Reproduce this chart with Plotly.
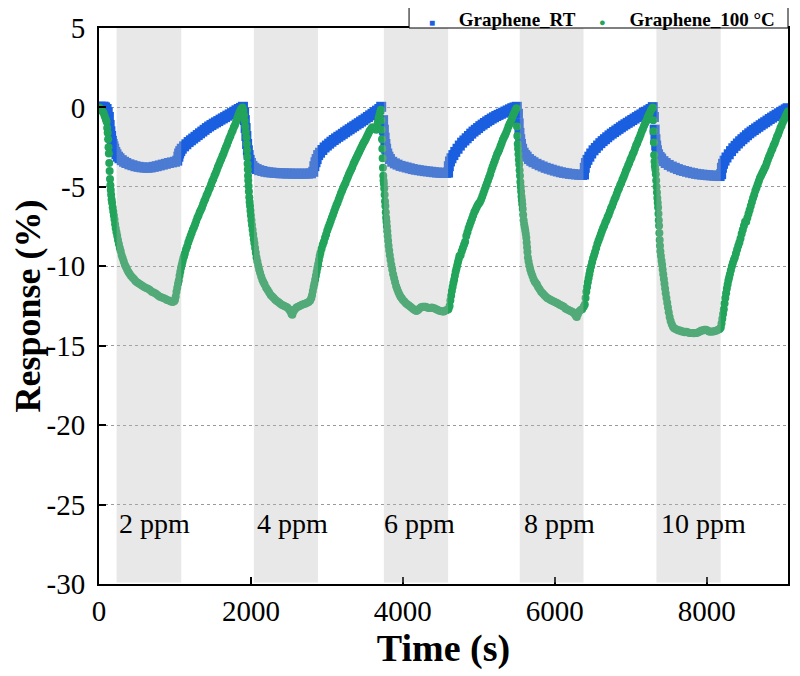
import plotly.graph_objects as go

# ---------------- data ----------------
t_rt = [0, 20, 40, 60, 80, 100, 115, 130, 140, 150, 160, 170, 180, 190, 200, 215, 230, 250, 270, 300,
        330, 360, 400, 440, 480, 520, 560, 600, 640, 680, 720, 760, 800, 840, 880, 920, 960, 1000, 1030,
        1045, 1055, 1070, 1090, 1120, 1150, 1180, 1210, 1240, 1270, 1300, 1330, 1360, 1390, 1420, 1450,
        1480, 1510, 1540, 1570, 1600, 1630, 1660, 1690, 1720, 1750, 1780, 1810, 1840, 1870, 1895,
        1910, 1920, 1930, 1940, 1950, 1960, 1970, 1985, 2000, 2020, 2045, 2075, 2110, 2150, 2190, 2230,
        2270, 2310, 2350, 2390, 2430, 2470, 2510, 2550, 2590, 2630, 2670, 2710, 2750, 2790, 2820, 2835,
        2850, 2865, 2885, 2910, 2940, 2970, 3000, 3030, 3060, 3090, 3120, 3150, 3180, 3210, 3240, 3270,
        3300, 3330, 3360, 3390, 3420, 3450, 3480, 3510, 3540, 3570, 3600, 3630, 3660, 3690, 3715,
        3740, 3750, 3760, 3770, 3780, 3795, 3810, 3830, 3860, 3895, 3930, 3970, 4010, 4050, 4090, 4130,
        4170, 4210, 4250, 4290, 4330, 4370, 4410, 4450, 4490, 4530, 4570, 4595, 4605, 4620, 4640, 4665,
        4690, 4720, 4750, 4780, 4810, 4840, 4870, 4900, 4930, 4960, 4990, 5020, 5050, 5080, 5110, 5140,
        5170, 5200, 5230, 5260, 5290, 5320, 5350, 5380, 5410, 5440, 5470, 5500,
        5515, 5525, 5535, 5545, 5555, 5570, 5590, 5610, 5630, 5660, 5690, 5720, 5760, 5800, 5840, 5880,
        5920, 5960, 6000, 6040, 6080, 6120, 6160, 6200, 6240, 6280, 6320, 6360, 6385, 6395, 6410, 6430,
        6455, 6480, 6510, 6540, 6570, 6600, 6630, 6660, 6690, 6720, 6750, 6780, 6810, 6840, 6870, 6900,
        6930, 6960, 6990, 7020, 7050, 7080, 7110, 7140, 7170, 7200, 7230, 7260, 7290,
        7305, 7315, 7325, 7335, 7345, 7360, 7380, 7400, 7430, 7460, 7500, 7540, 7580, 7620, 7660, 7700,
        7740, 7780, 7820, 7860, 7900, 7940, 7980, 8020, 8060, 8100, 8140, 8170, 8190, 8200, 8215, 8235,
        8260, 8290, 8320, 8350, 8380, 8410, 8440, 8470, 8500, 8530, 8560, 8590, 8620, 8650, 8680, 8710,
        8740, 8770, 8800, 8830, 8860, 8890, 8920, 8950, 8980, 9010, 9040, 9065]
y_rt = [0.0, 0.05, 0.0, 0.05, 0.0, -0.1, -0.3, -0.6, -1.1, -1.5, -1.8, -2.1, -2.3, -2.45, -2.6, -2.8, -2.95, -3.1, -3.2, -3.32,
        -3.42, -3.5, -3.58, -3.64, -3.7, -3.74, -3.77, -3.79, -3.8, -3.78, -3.74, -3.7, -3.65, -3.6, -3.55, -3.5, -3.46, -3.42, -3.35,
        -3.1, -2.9, -2.75, -2.6, -2.45, -2.32, -2.18, -2.07, -1.96, -1.85, -1.74, -1.63, -1.52, -1.41, -1.3, -1.2,
        -1.11, -1.02, -0.94, -0.86, -0.77, -0.69, -0.61, -0.52, -0.44, -0.36, -0.27, -0.18, -0.1, -0.03, 0.04,
        -0.3, -0.8, -1.3, -1.8, -2.3, -2.7, -3.0, -3.3, -3.5, -3.68, -3.8, -3.88, -3.95, -4.0, -4.05, -4.08,
        -4.1, -4.12, -4.13, -4.15, -4.15, -4.16, -4.16, -4.17, -4.17, -4.17, -4.17, -4.17, -4.17, -4.15, -4.05, -3.7,
        -3.45, -3.25, -3.0, -2.85, -2.68, -2.52, -2.4, -2.28, -2.16, -2.05, -1.95, -1.85, -1.76, -1.66, -1.56, -1.46,
        -1.37, -1.27, -1.18, -1.08, -0.99, -0.89, -0.8, -0.7, -0.6, -0.5, -0.4, -0.3, -0.2, -0.1, 0.04,
        -0.8, -1.4, -1.9, -2.3, -2.6, -2.9, -3.1, -3.25, -3.42, -3.52, -3.6, -3.68, -3.73, -3.78, -3.83, -3.88,
        -3.92, -3.95, -3.98, -4.01, -4.03, -4.05, -4.08, -4.1, -4.11, -4.12, -4.12, -4.1, -3.7, -3.4, -3.2, -3.0,
        -2.8, -2.6, -2.4, -2.22, -2.08, -1.94, -1.8, -1.65, -1.52, -1.41, -1.3, -1.18, -1.08, -0.98, -0.88, -0.79,
        -0.7, -0.62, -0.54, -0.47, -0.4, -0.33, -0.26, -0.19, -0.12, -0.05, 0.0, 0.04,
        -0.4, -1.0, -1.6, -2.0, -2.3, -2.6, -2.85, -3.0, -3.1, -3.25, -3.36, -3.45, -3.55, -3.64, -3.72, -3.8,
        -3.86, -3.92, -3.98, -4.03, -4.08, -4.12, -4.15, -4.18, -4.2, -4.22, -4.24, -4.25, -4.22, -3.8, -3.5, -3.3,
        -3.1, -2.9, -2.7, -2.55, -2.4, -2.25, -2.12, -2.0, -1.88, -1.76, -1.65, -1.55, -1.45, -1.35, -1.25, -1.15,
        -1.06, -0.97, -0.88, -0.79, -0.7, -0.61, -0.52, -0.44, -0.35, -0.27, -0.18, -0.1, 0.02,
        -0.6, -1.4, -2.0, -2.4, -2.7, -2.95, -3.12, -3.22, -3.38, -3.5, -3.62, -3.72, -3.8, -3.88, -3.95, -4.0,
        -4.05, -4.1, -4.14, -4.18, -4.21, -4.23, -4.25, -4.27, -4.28, -4.3, -4.31, -4.32, -4.2, -3.8, -3.55, -3.35,
        -3.15, -2.95, -2.75, -2.57, -2.42, -2.27, -2.13, -2.0, -1.88, -1.75, -1.63, -1.52, -1.42, -1.32, -1.22, -1.12,
        -1.02, -0.93, -0.83, -0.73, -0.64, -0.55, -0.46, -0.37, -0.28, -0.2, -0.12, -0.05]

t_100 = [0, 15, 30, 45, 60, 75, 90, 100, 108, 114, 120, 125, 130, 135, 140, 145, 150, 155, 160, 166, 172,
         180, 188, 196, 204, 212, 220, 230, 240, 250, 262, 274, 286, 298, 312, 326, 340, 355, 370, 385, 400,
         420, 440, 460, 480, 500, 520, 545, 570, 595, 620, 645, 670, 695, 720, 745, 770, 795, 820, 845, 870,
         895, 920, 945, 970, 990, 1000, 1010, 1020, 1030, 1040, 1050, 1060, 1070, 1080, 1090, 1100, 1110,
         1120, 1130, 1145, 1160, 1175, 1190, 1205, 1220, 1235, 1250, 1265, 1280, 1295, 1310, 1325, 1340,
         1355, 1370, 1385, 1400, 1415, 1430, 1445, 1460, 1475, 1490, 1505, 1520, 1535, 1550, 1565, 1580,
         1595, 1610, 1625, 1640, 1655, 1670, 1685, 1700, 1715, 1730, 1745, 1760, 1775, 1790, 1805, 1820,
         1835, 1850, 1865, 1880, 1890,
         1900, 1910, 1918, 1925, 1932, 1940, 1945, 1950, 1953, 1956, 1959, 1962, 1965, 1969, 1973, 1978,
         1983, 1988, 1994, 2000, 2007, 2014, 2022, 2030, 2038, 2046, 2055, 2064, 2074, 2085, 2096, 2108,
         2120, 2135, 2150, 2165, 2180, 2200, 2220, 2240, 2260, 2280, 2300, 2320, 2340, 2360, 2380, 2400,
         2420, 2440, 2460, 2480, 2500, 2520, 2535, 2545, 2560, 2580, 2600, 2620, 2640, 2660, 2680, 2700,
         2720, 2740, 2760, 2780, 2795, 2805, 2815, 2825, 2835, 2845, 2855, 2865, 2875, 2885, 2895, 2905,
         2915, 2930, 2945, 2960, 2975, 2990, 3005, 3020, 3035, 3050, 3065, 3080, 3095, 3110, 3125, 3140,
         3155, 3170, 3185, 3200, 3215, 3230, 3245, 3260, 3275, 3290, 3305, 3320, 3335, 3350, 3365, 3380,
         3395, 3410, 3425, 3440, 3455, 3470, 3485, 3500, 3515, 3530, 3545, 3560, 3575, 3590, 3605, 3620,
         3635, 3650, 3660, 3670, 3680, 3690, 3700, 3710,
         3718, 3722, 3726, 3730, 3734, 3738, 3742, 3746, 3750, 3755, 3760, 3765, 3770, 3775, 3780, 3785,
         3790, 3795, 3800, 3806, 3812, 3820, 3828, 3838, 3848, 3860, 3872, 3885, 3898, 3912, 3926, 3940,
         3955, 3970, 3985, 4000, 4020, 4040, 4060, 4080, 4100, 4120, 4140, 4160, 4180, 4200, 4220, 4240,
         4260, 4280, 4300, 4320, 4340, 4360, 4380, 4400, 4420, 4440, 4460, 4480, 4500, 4520, 4540, 4560,
         4580, 4600, 4615, 4625, 4635, 4645, 4655, 4665, 4675, 4685, 4695, 4705, 4715, 4725, 4735, 4745,
         4760, 4775, 4790, 4805, 4820, 4835, 4850, 4865, 4880, 4895, 4910, 4925, 4940, 4955, 4970, 4985,
         5000, 5015, 5030, 5045, 5060, 5075, 5090, 5105, 5120, 5135, 5150, 5165, 5180, 5195, 5210, 5225,
         5240, 5255, 5270, 5285, 5300, 5315, 5330, 5345, 5360, 5375, 5390, 5405, 5420, 5435, 5450, 5465,
         5480, 5495,
         5503, 5507, 5512, 5517, 5522, 5527, 5532, 5537, 5542, 5547, 5552, 5557, 5562, 5567, 5572, 5578,
         5584, 5590, 5597, 5604, 5611, 5618, 5625, 5630, 5635, 5640, 5646, 5655, 5665, 5677, 5690, 5705,
         5720, 5735, 5750, 5765, 5780, 5800, 5820, 5840, 5860, 5880, 5900, 5920, 5940, 5960, 5980, 6000,
         6020, 6040, 6060, 6080, 6100, 6120, 6140, 6160, 6180, 6200, 6220, 6240, 6260, 6280, 6290, 6305,
         6320, 6340, 6360, 6380, 6395, 6405, 6415, 6425, 6435, 6445, 6455, 6465, 6478, 6491, 6504, 6517,
         6530, 6545, 6560, 6575, 6590, 6605, 6620, 6635, 6650, 6665, 6680, 6695, 6710, 6725, 6740, 6755,
         6770, 6785, 6800, 6815, 6830, 6845, 6860, 6875, 6890, 6905, 6920, 6935, 6950, 6965, 6980, 6995,
         7010, 7025, 7040, 7055, 7070, 7085, 7100, 7115, 7130, 7145, 7160, 7175, 7190, 7205, 7220, 7235,
         7250, 7265, 7280, 7290,
         7296, 7300, 7304, 7308, 7313, 7318, 7324, 7330, 7335, 7340, 7345, 7350, 7355, 7360, 7365, 7369,
         7373, 7377, 7381, 7385, 7390, 7397, 7405, 7413, 7420, 7428, 7436, 7444, 7452, 7460, 7470, 7480,
         7490, 7500, 7512, 7525, 7540, 7555, 7570, 7590, 7610, 7630, 7650, 7670, 7690, 7710, 7730, 7750,
         7770, 7790, 7810, 7830, 7850, 7870, 7890, 7910, 7930, 7950, 7970, 7990, 8010, 8030, 8050, 8070,
         8090, 8110, 8130, 8150, 8170, 8185, 8195, 8205, 8215, 8225, 8235, 8245, 8255, 8265, 8275, 8285,
         8295, 8305, 8318, 8331, 8344, 8357, 8370, 8385, 8400, 8415, 8430, 8445, 8460, 8475, 8490, 8505,
         8520, 8535, 8550, 8565, 8580, 8595, 8610, 8625, 8640, 8655, 8670, 8685, 8700, 8715, 8730, 8745,
         8760, 8775, 8790, 8805, 8820, 8835, 8850, 8865, 8880, 8895, 8910, 8925, 8940, 8955, 8970, 8985,
         9000, 9015, 9030, 9045, 9060, 9070]
y_100 = [0.0, -0.05, -0.15, -0.25, -0.35, -0.55, -0.75, -0.9, -1.3, -1.6, -2.0, -2.5, -2.9, -3.5, -4.0, -4.5, -4.9, -5.2, -5.5, -5.8, -6.0,
         -6.3, -6.55, -6.8, -7.05, -7.35, -7.6, -7.85, -8.1, -8.35, -8.6, -8.85, -9.05, -9.3, -9.5, -9.7, -9.9, -10.05, -10.2, -10.35, -10.45,
         -10.6, -10.7, -10.8, -10.92, -11.0, -11.07, -11.15, -11.22, -11.3, -11.37, -11.42, -11.5, -11.6, -11.65, -11.72, -11.8, -11.9, -11.95, -12.0, -12.05,
         -12.12, -12.15, -12.22, -12.25, -12.2, -12.12, -11.9, -11.6, -11.35, -11.1, -10.9, -10.6, -10.35, -10.1, -9.9, -9.7, -9.5,
         -9.35, -9.2, -8.95, -8.75, -8.5, -8.3, -8.1, -7.9, -7.7, -7.55, -7.35, -7.15, -6.95, -6.8, -6.6, -6.45,
         -6.3, -6.1, -5.9, -5.75, -5.55, -5.4, -5.2, -5.05, -4.85, -4.65, -4.5, -4.3, -4.15, -3.95, -3.75, -3.6,
         -3.4, -3.25, -3.05, -2.9, -2.7, -2.5, -2.35, -2.15, -1.95, -1.8, -1.6, -1.45, -1.25, -1.1, -0.9, -0.7,
         -0.5, -0.3, -0.15, -0.05, 0.0,
         -0.2, -0.5, -0.85, -1.2, -1.55, -1.9, -2.3, -2.7, -3.1, -3.55, -3.9, -4.3, -4.6, -4.95, -5.3, -5.65,
         -5.95, -6.2, -6.5, -6.8, -7.1, -7.4, -7.7, -8.0, -8.3, -8.55, -8.85, -9.15, -9.45, -9.7, -9.95, -10.2,
         -10.4, -10.65, -10.85, -11.0, -11.15, -11.35, -11.5, -11.65, -11.8, -11.9, -12.0, -12.1, -12.18, -12.25, -12.32, -12.4,
         -12.45, -12.5, -12.55, -12.6, -12.7, -12.85, -13.0, -13.05, -12.85, -12.7, -12.6, -12.55, -12.5, -12.45, -12.4, -12.38,
         -12.35, -12.3, -12.25, -12.15, -12.0, -11.8, -11.55, -11.3, -11.1, -10.85, -10.6, -10.35, -10.1, -9.85, -9.6, -9.35,
         -9.15, -8.9, -8.65, -8.45, -8.2, -8.0, -7.75, -7.55, -7.35, -7.15, -6.95, -6.75, -6.55, -6.35, -6.15, -6.0,
         -5.8, -5.6, -5.4, -5.25, -5.05, -4.9, -4.75, -4.55, -4.4, -4.2, -4.05, -3.9, -3.75, -3.55, -3.4, -3.25,
         -3.1, -2.95, -2.8, -2.65, -2.5, -2.35, -2.2, -2.1, -1.95, -1.8, -1.65, -1.5, -1.4, -1.3, -1.25, -1.3,
         -1.35, -1.4, -1.2, -0.95, -0.7, -0.5, -0.3, -0.15,
         -0.8, -1.4, -2.0, -2.6, -3.2, -3.8, -4.3, -4.6, -4.8, -5.1, -5.5, -5.9, -6.2, -6.6, -6.95, -7.2,
         -7.5, -7.8, -8.1, -8.4, -8.7, -9.0, -9.3, -9.6, -9.9, -10.2, -10.5, -10.75, -11.0, -11.25, -11.45, -11.62,
         -11.78, -11.92, -12.02, -12.12, -12.22, -12.32, -12.4, -12.47, -12.55, -12.62, -12.7, -12.77, -12.82, -12.75, -12.65, -12.58,
         -12.55, -12.55, -12.55, -12.6, -12.62, -12.62, -12.6, -12.62, -12.65, -12.7, -12.75, -12.8, -12.82, -12.85, -12.85, -12.78,
         -12.75, -12.7, -12.5, -12.15, -11.85, -11.55, -11.3, -11.05, -10.85, -10.6, -10.35, -10.15, -9.95, -9.75, -9.55, -9.35,
         -9.3, -9.05, -8.85, -8.65, -8.45, -8.1, -7.85, -7.6, -7.4, -7.2, -7.0, -6.8, -6.6, -6.45, -6.3, -6.15,
         -6.05, -5.95, -5.8, -5.6, -5.4, -5.2, -5.0, -4.8, -4.6, -4.4, -4.2, -3.95, -3.75, -3.55, -3.35, -3.15,
         -2.95, -2.8, -2.65, -2.45, -2.25, -2.05, -1.9, -1.75, -1.6, -1.4, -1.2, -1.05, -0.9, -0.7, -0.5, -0.35,
         -0.2, -0.05,
         -1.2, -1.8, -2.3, -2.6, -2.95, -3.3, -3.6, -3.95, -4.3, -4.7, -5.0, -5.3, -5.6, -5.85, -6.1, -6.4,
         -6.75, -7.1, -7.35, -7.55, -7.75, -7.95, -8.2, -8.5, -8.8, -9.1, -9.45, -9.7, -9.95, -10.2, -10.4, -10.6,
         -10.8, -10.95, -11.05, -11.15, -11.3, -11.45, -11.6, -11.7, -11.8, -11.9, -12.0, -12.05, -12.1, -12.15, -12.2, -12.25,
         -12.3, -12.35, -12.4, -12.45, -12.5, -12.55, -12.65, -12.7, -12.75, -12.8, -12.85, -12.9, -13.0, -13.15, -13.2, -13.0,
         -12.85, -12.75, -12.7, -12.55, -12.4, -12.0, -11.6, -11.3, -11.0, -10.75, -10.5, -10.25, -10.0, -9.75, -9.5, -9.3,
         -9.1, -8.85, -8.6, -8.4, -8.2, -8.0, -7.8, -7.6, -7.45, -7.25, -7.1, -6.9, -6.75, -6.55, -6.35, -6.2,
         -6.0, -5.8, -5.65, -5.45, -5.25, -5.1, -4.9, -4.75, -4.55, -4.4, -4.2, -4.0, -3.85, -3.65, -3.5, -3.3,
         -3.15, -2.95, -2.8, -2.6, -2.4, -2.25, -2.05, -1.9, -1.7, -1.5, -1.35, -1.15, -1.0, -0.85, -0.65, -0.5,
         -0.35, -0.2, -0.08, 0.0,
         -0.8, -1.5, -2.2, -3.0, -3.4, -3.7, -3.9, -4.2, -4.6, -5.0, -5.35, -5.7, -6.0, -6.3, -6.7, -7.1,
         -7.45, -7.9, -8.35, -8.7, -9.05, -9.35, -9.65, -9.9, -10.2, -10.5, -10.8, -11.1, -11.4, -11.7, -12.0, -12.3,
         -12.6, -12.9, -13.2, -13.45, -13.65, -13.8, -13.9, -13.95, -14.0, -14.05, -14.05, -14.1, -14.1, -14.15, -14.12, -14.15,
         -14.2, -14.2, -14.2, -14.22, -14.2, -14.2, -14.15, -14.1, -14.05, -14.05, -14.0, -14.0, -14.05, -14.1, -14.12, -14.1,
         -14.1, -14.08, -14.05, -14.0, -13.95, -13.85, -13.6, -13.3, -13.0, -12.7, -12.35, -12.0, -11.7, -11.4, -11.15, -10.9,
         -10.7, -10.5, -10.25, -10.0, -9.8, -9.6, -9.45, -9.2, -8.95, -8.7, -8.5, -8.25, -7.95, -7.7, -7.45, -7.2,
         -7.2, -6.95, -6.7, -6.45, -6.2, -5.95, -5.7, -5.5, -5.25, -5.05, -4.85, -4.65, -4.45, -4.3, -4.15, -4.0,
         -3.85, -3.7, -3.5, -3.3, -3.1, -2.95, -2.75, -2.6, -2.4, -2.25, -2.05, -1.85, -1.7, -1.5, -1.3, -1.15,
         -0.95, -0.8, -0.65, -0.5, -0.35, -0.25]

series_names = ["Graphene_RT", "Graphene_100 °C"]
shade_start = [232, 2039, 3750, 5539, 7338]
shade_end = [1083, 2882, 4596, 6378, 8184]
conc_labels = ["2 ppm", "4 ppm", "6 ppm", "8 ppm", "10 ppm"]
conc_label_x = [724, 2553, 4224, 6066, 7960]
conc_label_y = -26.2

x_ticks = [0, 2000, 4000, 6000, 8000]
y_ticks = [5, 0, -5, -10, -15, -20, -25, -30]
y_ticktext = ["5", "0", "-5", "-10", "-15", "-20", "-25", "-30"]

FONT = "Liberation Serif, Times New Roman, serif"
BLUE = "#1a5fe0"
GREEN = "#22a45a"

fig = go.Figure()
fig.add_trace(go.Scatter(x=t_rt, y=y_rt, mode="markers", name=series_names[0], showlegend=False,
                         marker=dict(symbol="square", size=10, color=BLUE, line=dict(width=0))))
fig.add_trace(go.Scatter(x=t_100, y=y_100, mode="markers", name=series_names[1], showlegend=False,
                         marker=dict(symbol="circle", size=8, color=GREEN, line=dict(width=0))))

for s, e in zip(shade_start, shade_end):
    fig.add_shape(type="rect", xref="x", yref="y", x0=s, x1=e, y0=-29.9, y1=5,
                  fillcolor="rgba(185,185,185,0.32)", line=dict(width=0), layer="above")

for lab, xx in zip(conc_labels, conc_label_x):
    fig.add_annotation(x=xx, y=conc_label_y, text=lab, showarrow=False,
                       font=dict(family=FONT, size=28, color="black"))

# legend box sitting on top of the plot frame (its top runs off the page, as in the reference)
fig.add_shape(type="rect", xref="paper", yref="paper", x0=0.45, x1=1.0, y0=1.0, y1=1.06,
              fillcolor="white", line=dict(color="black", width=1), layer="above")
sp = "&nbsp;"
legend_text = (sp * 4 + f"<span style='color:{BLUE};font-size:10px'>■</span>" + sp * 5
               + f"<b>{series_names[0]}</b>" + sp * 5
               + f"<span style='color:{GREEN};font-size:11px'>●</span>" + sp * 5
               + f"<b>{series_names[1]}</b>")
fig.add_annotation(xref="paper", yref="paper", x=0.45, y=1.0153, xanchor="left", yanchor="middle",
                   text=legend_text, showarrow=False, align="left", borderpad=0,
                   font=dict(family=FONT, size=19, color="black"))

fig.update_layout(
    width=800, height=676,
    margin=dict(l=91, r=20, t=20, b=100, autoexpand=False),
    paper_bgcolor="white", plot_bgcolor="white",
    font=dict(family=FONT, color="black"),
    showlegend=False,
    xaxis=dict(range=[0, 9070], tickvals=x_ticks, ticks="inside", ticklen=7, tickwidth=2,
               tickcolor="black", showline=True, linewidth=2, linecolor="black", mirror=True,
               showgrid=False, zeroline=False, ticklabelstandoff=0,
               tickfont=dict(family=FONT, size=29, color="black"),
               title=dict(text="<b>Time (s)</b>", font=dict(family=FONT, size=38, color="black"),
                          standoff=0)),
    yaxis=dict(range=[-30, 5], tickvals=y_ticks, ticktext=y_ticktext, ticks="inside", ticklen=7,
               tickwidth=2, tickcolor="black", showline=True, linewidth=2, linecolor="black",
               mirror=True, showgrid=True, gridcolor="#9a9a9a", griddash="dot", gridwidth=1,
               zeroline=False, ticklabelstandoff=6,
               tickfont=dict(family=FONT, size=29, color="black"),
               title=dict(text="<b>Response (%)</b>", font=dict(family=FONT, size=36, color="black"),
                          standoff=0)),
)

fig.write_html("out.html")
